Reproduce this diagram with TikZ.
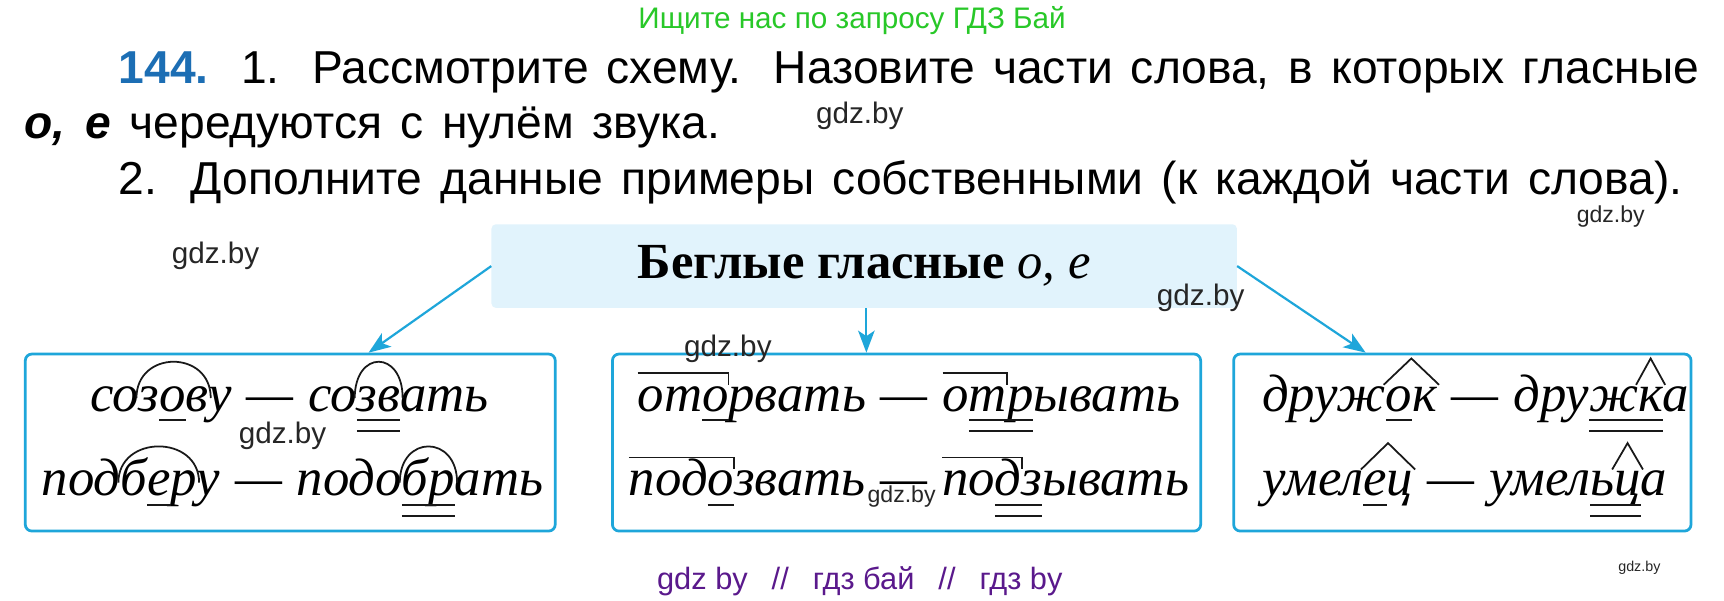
\documentclass[tikz,border=0pt]{standalone}
\usepackage{fontspec}
\setmainfont{Liberation Sans}
\newfontfamily\wfont{Liberation Serif}
\usetikzlibrary{calc,arrows.meta}
\definecolor{cyanline}{RGB}{30,166,218}
\definecolor{hdrfill}{RGB}{225,243,252}
\definecolor{numblue}{RGB}{28,110,180}
\definecolor{wmgreen}{RGB}{40,200,40}
\definecolor{wmpurple}{RGB}{90,25,140}
\newcommand\pcstart[3]{\node[pc] (#1) at (#2) {#3};}
\newcommand\pcnode[3]{\node[pc] (#1) at (#2.base east) {#3};}
\newcommand\pcdash[2]{\node[pc] (#1) at (#2.base east) {\kern0.28em—\kern0.28em};}
\newcommand\mkul[1]{\draw[mk] ($(#1.base west)+(0,8)$) -- ($(#1.base east)+(0,8)$);}
\newcommand\mkuu[2]{\draw[mk] ($(#1.base west)+(0,8)$) -- ($(#2.base east)+(0,8)$);
  \draw[mk] ($(#1.base west)+(0,18)$) -- ($(#2.base east)+(0,18)$);}
\newcommand\mkarc[2]{\draw[mk] ($(#1.base west)+(-2,-12)$) .. controls +(0,-44) and +(0,-44) .. ($(#2.base east)+(2,-12)$);}
\newcommand\mkpfx[2]{\draw[mk] ($(#1.base west)+(0,-35)$) -- ($(#2.base east)+(0,-35)$) -- ($(#2.base east)+(0,-24)$);}
\newcommand\mksfx[2]{\draw[mk] ($(#1.base west)+(-2,-24)$) -- ($(#1.base west)!0.5!(#2.base east)+(0,-48)$) -- ($(#2.base east)+(2,-24)$);}
\begin{document}
\begin{tikzpicture}[x=1pt,y=-1pt,
  pc/.style={inner sep=0pt, outer sep=0pt, anchor=base west, font={\wfont\itshape\fontsize{48pt}{56pt}\selectfont}},
  mk/.style={draw=black!90, line width=1.6pt},
  box/.style={draw=cyanline, line width=2.5pt, rounded corners=6pt, inner sep=0pt},
  hdr/.style={fill=hdrfill, rounded corners=4pt, inner sep=0pt, font={\wfont\fontsize{46pt}{52pt}\selectfont}},
  arr/.style={draw=cyanline, line width=2pt, -{Stealth[length=20pt,width=15pt,inset=5pt]}},
  wm/.style={font=\fontsize{27pt}{30pt}\selectfont, text=black!85, inner sep=0pt},
  body/.style={font=\fontsize{42pt}{48pt}\selectfont, inner sep=0pt, anchor=base west}]
\useasboundingbox (0,0) rectangle (1568,546.6);
\fill[white] (0,0) rectangle (1568,546.6);

% top texts
\node[anchor=base, inner sep=0pt, font=\fontsize{27pt}{30pt}\selectfont, text=wmgreen] (wtop) at (775,26) {Ищите нас по запросу ГДЗ Бай};
\node[body] (t1) at (108,76) {\makebox[1437pt][s]{\textcolor{numblue}{\textbf{144.}} 1. Рассмотрите схему. Назовите части слова, в которых гласные}};
\node[body] (t2) at (22,126) {\makebox[633pt][s]{\textbf{\textit{о, е}} чередуются с нулём звука.}};
\node[body] (t3) at (108,177) {\makebox[1422pt][s]{2. Дополните данные примеры собственными (к каждой части слова).}};

% header and boxes
\node[hdr, minimum width=678pt, minimum height=76pt] (H) at (786,242) {\textbf{Беглые гласные} \textit{о, е}};
\node[box, minimum width=482pt, minimum height=161pt] (L) at (264,402.5) {};
\node[box, minimum width=535pt, minimum height=161pt] (M) at (824.5,402.5) {};
\node[box, minimum width=416pt, minimum height=161pt] (R) at (1330,402.5) {};

\coordinate (Hs) at ($(H.south west)!0.5029!(H.south east)$);
\draw[arr] (H.west) -- ($(L.north west)!0.647!(L.north east)$);
\draw[arr] (Hs) -- (Hs |- M.north);
\draw[arr] (H.east) -- ($(R.north west)!0.29!(R.north east)$);

% left box
\pcstart{a1}{82,374}{со}\pcnode{a2}{a1}{з}\pcnode{a3}{a2}{о}\pcnode{a4}{a3}{в}\pcnode{a5}{a4}{у}
\pcdash{a6}{a5}\pcnode{a7}{a6}{со}\pcnode{a8}{a7}{з}\pcnode{a9}{a8}{в}\pcnode{a10}{a9}{ать}
\mkarc{a2}{a4}\mkul{a3}\mkarc{a8}{a9}\mkuu{a8}{a9}

\pcstart{b1}{38,451}{под}\pcnode{b2}{b1}{б}\pcnode{b3}{b2}{е}\pcnode{b4}{b3}{р}\pcnode{b5}{b4}{у}
\pcdash{b6}{b5}\pcnode{b7}{b6}{подо}\pcnode{b8}{b7}{бр}\pcnode{b9}{b8}{ать}
\mkarc{b2}{b4}\mkul{b3}\mkarc{b8}{b8}\mkuu{b8}{b8}

% middle box
\pcstart{c1}{580,374}{от}\pcnode{c2}{c1}{о}\pcnode{c3}{c2}{рвать}
\pcdash{c4}{c3}\pcnode{c5}{c4}{о}\pcnode{c6}{c5}{т}\pcnode{c7}{c6}{р}\pcnode{c8}{c7}{ывать}
\mkpfx{c1}{c2}\mkul{c2}\mkpfx{c5}{c6}\mkuu{c6}{c7}

\pcstart{d1}{572,451}{под}\pcnode{d2}{d1}{о}\pcnode{d3}{d2}{звать}
\pcdash{d4}{d3}\pcnode{d5}{d4}{по}\pcnode{d6}{d5}{д}\pcnode{d7}{d6}{з}\pcnode{d8}{d7}{ывать}
\mkpfx{d1}{d2}\mkul{d2}\mkpfx{d5}{d6}\mkuu{d6}{d7}

% right box
\pcstart{e1}{1148,374}{друж}\pcnode{e2}{e1}{о}\pcnode{e3}{e2}{к}
\pcdash{e4}{e3}\pcnode{e5}{e4}{дру}\pcnode{e6}{e5}{ж}\pcnode{e7}{e6}{к}\pcnode{e8}{e7}{а}
\mksfx{e2}{e3}\mkul{e2}\mksfx{e7}{e7}\mkuu{e6}{e7}

\pcstart{f1}{1148,451}{умел}\pcnode{f2}{f1}{е}\pcnode{f3}{f2}{ц}
\pcdash{f4}{f3}\pcnode{f5}{f4}{умел}\pcnode{f6}{f5}{ь}\pcnode{f7}{f6}{ц}\pcnode{f8}{f7}{а}
\mksfx{f2}{f3}\mkul{f2}\mksfx{f7}{f7}\mkuu{f6}{f7}

% watermarks
\node[wm] (w1) at (782,105) {gdz.by};
\node[wm, font=\fontsize{21pt}{24pt}\selectfont] (w2) at (1465,197) {gdz.by};
\node[wm] (w3) at (196,233) {gdz.by};
\node[wm] (w4) at (1092,271) {gdz.by};
\node[wm] (w5) at (662,317) {gdz.by};
\node[wm] (w6) at (257,396) {gdz.by};
\node[wm, font=\fontsize{21pt}{24pt}\selectfont] (w7) at (820,452) {gdz.by};
\node[wm, font=\fontsize{13pt}{15pt}\selectfont] (w8) at (1491,516) {gdz.by};
\node[inner sep=0pt, font=\fontsize{28pt}{32pt}\selectfont, text=wmpurple] (wb) at (782,529) {gdz by\enspace\ //\enspace\ гдз бай\enspace\ //\enspace\ гдз by};
\end{tikzpicture}
\end{document}
